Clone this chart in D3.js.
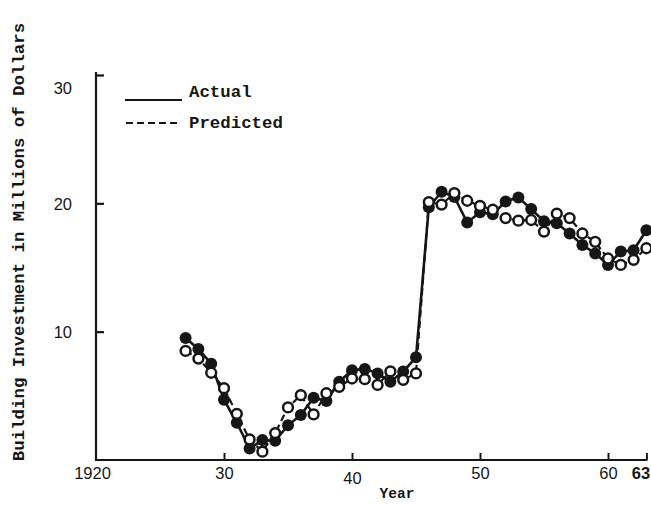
<!DOCTYPE html>
<html>
<head>
<meta charset="utf-8">
<script src="https://cdn.jsdelivr.net/npm/d3@7"></script>
<style>
  body { margin: 0; background: #ffffff; }
  svg { display: block; }
  .mono { font-family: "Liberation Mono", "Courier New", monospace; fill: #161616; }
  .num { font-family: "Liberation Sans", Arial, sans-serif; fill: #161616; }
</style>
</head>
<body>
<svg id="chart" width="651" height="505"></svg>
<script>
// Building investment, 1927-1963 (millions of dollars)
const years = [1927, 1928, 1929, 1930, 1931, 1932, 1933, 1934, 1935, 1936,
               1937, 1938, 1939, 1940, 1941, 1942, 1943, 1944, 1945, 1946,
               1947, 1948, 1949, 1950, 1951, 1952, 1953, 1954, 1955, 1956,
               1957, 1958, 1959, 1960, 1961, 1962, 1963];

const actual = [9.5, 8.65, 7.5, 4.7, 2.9, 0.9, 1.55, 1.5, 2.7, 3.5,
                4.85, 4.6, 6.1, 7.0, 7.1, 6.75, 6.1, 6.9, 8.0, 19.7,
                20.9, 20.5, 18.5, 19.3, 19.15, 20.15, 20.45, 19.55, 18.6, 18.45,
                17.65, 16.75, 16.1, 15.2, 16.25, 16.35, 17.9];

const predicted = [8.5, 7.9, 6.8, 5.6, 3.6, 1.6, 0.65, 2.1, 4.1, 5.05,
                   3.55, 5.2, 5.7, 6.35, 6.3, 5.85, 6.9, 6.25, 6.75, 20.1,
                   19.9, 20.8, 20.2, 19.8, 19.5, 18.85, 18.65, 18.7, 17.8, 19.2,
                   18.85, 17.65, 17.0, 15.7, 15.2, 15.6, 16.5];

const xTicks = [1920, 1930, 1940, 1950, 1960, 1963];
const xTickLabels = ["1920", "30", "40", "50", "60", "63"];
const yTicks = [10, 20, 30];
const yTickLabels = ["10", "20", "30"];

const seriesNames = ["Actual", "Predicted"];

const ink = "#161616";
const svg = d3.select("#chart");

const x = d3.scaleLinear().domain([1920, 1963]).range([96, 646.4]);
const y = d3.scaleLinear().domain([0, 30]).range([460, 75]);

// Axes: ticks point inward
const xAxis = d3.axisBottom(x)
  .tickValues(xTicks)
  .tickFormat((d, i) => xTickLabels[i])
  .tickSizeInner(-7)
  .tickSizeOuter(0)
  .tickPadding(7);

const gx = svg.append("g").attr("transform", `translate(0,${y(0)})`).call(xAxis);
gx.select(".domain").remove();
gx.selectAll(".tick line").attr("stroke", ink).attr("stroke-width", 2);
gx.selectAll(".tick text")
  .attr("class", "num")
  .attr("font-size", 16.5)
  .attr("font-weight", (d, i) => xTickLabels[i] === "63" ? "bold" : "normal")
  .attr("dx", (d, i) => xTickLabels[i] === "63" ? -6 : (xTickLabels[i] === "1920" ? -4 : 0))
  .attr("dy", (d, i) => xTickLabels[i] === "40" ? "1.05em" : "0.7em");
gx.selectAll(".tick").filter(d => d === 1920).select("line").remove();

const yAxis = d3.axisLeft(y)
  .tickValues(yTicks)
  .tickFormat((d, i) => yTickLabels[i])
  .tickSizeInner(-8)
  .tickSizeOuter(0)
  .tickPadding(24);

const gy = svg.append("g").attr("transform", `translate(${x(1920)},0)`).call(yAxis);
gy.select(".domain").remove();
gy.selectAll(".tick line").attr("stroke", ink).attr("stroke-width", 2.2);
gy.selectAll(".tick text")
  .attr("class", "num")
  .attr("font-size", 16.5)
  .attr("dy", d => d === 30 ? "1.15em" : "0.35em");

// Axis lines
svg.append("line")
  .attr("x1", x(1920)).attr("x2", x(1920))
  .attr("y1", y(30) - 3).attr("y2", y(0) + 1)
  .attr("stroke", ink).attr("stroke-width", 2.2);
svg.append("line")
  .attr("x1", x(1920) - 1).attr("x2", x(1963) + 1)
  .attr("y1", y(0)).attr("y2", y(0))
  .attr("stroke", ink).attr("stroke-width", 2.2);

// Axis titles
svg.append("text")
  .attr("class", "mono")
  .attr("transform", `translate(24,242) rotate(-90)`)
  .attr("text-anchor", "middle")
  .attr("font-size", 17.4)
  .attr("font-weight", "bold")
  .text("Building Investment in Millions of Dollars");

svg.append("text")
  .attr("class", "mono")
  .attr("x", 397).attr("y", 498)
  .attr("text-anchor", "middle")
  .attr("font-size", 14.5)
  .attr("font-weight", "bold")
  .text("Year");

// Series lines
const actualPts = years.map((yr, i) => [yr, actual[i]]);
const predPts = years.map((yr, i) => [yr, predicted[i]]);
const line = d3.line().x(d => x(d[0])).y(d => y(d[1]));

svg.append("path")
  .datum(predPts)
  .attr("d", line)
  .attr("fill", "none")
  .attr("stroke", ink)
  .attr("stroke-width", 2.2)
  .attr("stroke-dasharray", "7,4");

svg.append("path")
  .datum(actualPts)
  .attr("d", line)
  .attr("fill", "none")
  .attr("stroke", ink)
  .attr("stroke-width", 2.6);

// Markers: filled for actual, open for predicted
svg.append("g").selectAll("circle")
  .data(actualPts)
  .join("circle")
  .attr("cx", d => x(d[0]))
  .attr("cy", d => y(d[1]))
  .attr("r", 6)
  .attr("fill", ink);

svg.append("g").selectAll("circle")
  .data(predPts)
  .join("circle")
  .attr("cx", d => x(d[0]))
  .attr("cy", d => y(d[1]))
  .attr("r", 4.9)
  .attr("fill", "#ffffff")
  .attr("stroke", ink)
  .attr("stroke-width", 2.5);

// Legend
const legend = svg.append("g");
legend.append("line")
  .attr("x1", 125).attr("x2", 182).attr("y1", 100).attr("y2", 100)
  .attr("stroke", ink).attr("stroke-width", 2);
legend.append("line")
  .attr("x1", 126).attr("x2", 180).attr("y1", 123).attr("y2", 123)
  .attr("stroke", ink).attr("stroke-width", 2)
  .attr("stroke-dasharray", "7,4");
legend.selectAll("text")
  .data(seriesNames)
  .join("text")
  .attr("class", "mono")
  .attr("x", 189)
  .attr("y", (d, i) => i === 0 ? 97 : 128)
  .attr("font-size", 17.4)
  .attr("font-weight", "bold")
  .text(d => d);
</script>
</body>
</html>
